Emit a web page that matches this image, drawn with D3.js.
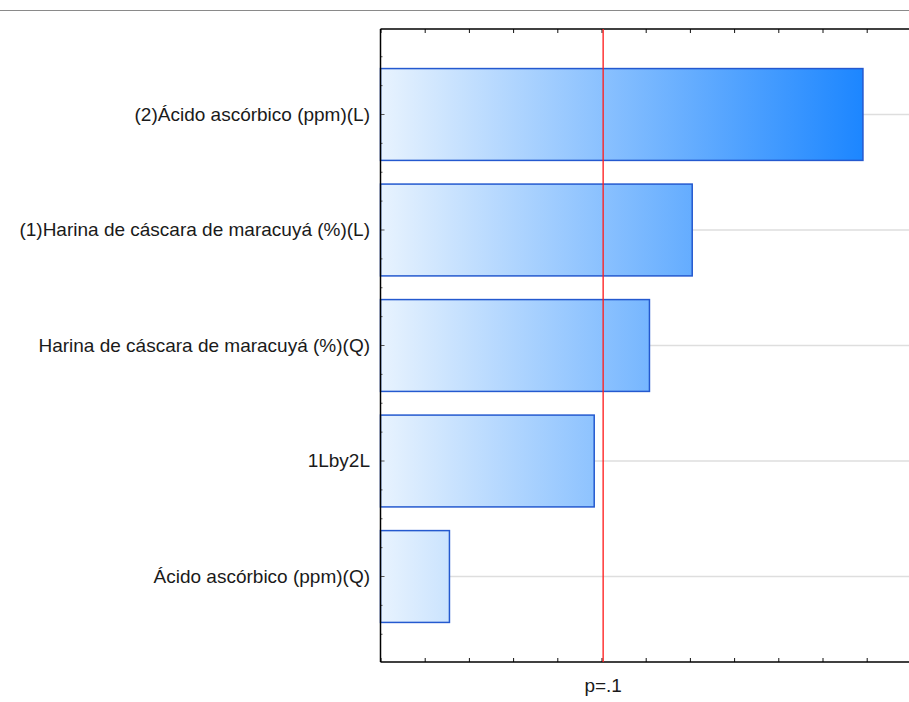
<!DOCTYPE html>
<html>
<head>
<meta charset="utf-8">
<script src="https://cdn.jsdelivr.net/npm/d3@7"></script>
<style>
	html, body { margin: 0; padding: 0; background: #fff; }
	svg { display: block; font-family: 'Liberation Sans', Arial, sans-serif; }
	.label { font-size: 19px; fill: #1a1a1a; }
</style>
</head>
<body>
<svg id="chart" width="909" height="702"></svg>
<script>
// effects, sorted as in the pareto chart
let effects = [
	'(2)Ácido ascórbico (ppm)(L)',
	'(1)Harina de cáscara de maracuyá (%)(L)',
	'Harina de cáscara de maracuyá (%)(Q)',
	'1Lby2L',
	'Ácido ascórbico (ppm)(Q)'
];
let effectValues = [4.366, 2.821, 2.434, 1.934, 0.624];
let pLabel = 'p=.1';
let pValue = 2.015;

let svg = d3.select('#chart');
let width = +svg.attr('width');
let plotLeft = 380.5, plotTop = 29, plotBottom = 662;

let x = d3.scaleLinear()
	.domain([0, 4.8])
	.range([plotLeft, plotLeft + 4.8 * 110.5]);

let y = d3.scaleBand()
	.domain(effects)
	.range([plotTop, plotBottom])
	.paddingInner(0.205)
	.paddingOuter(0.3426);

let step = y.step();

// gradient shared by all bars (same colour at same x)
let grad = svg.append('defs').append('linearGradient')
	.attr('id', 'barGrad')
	.attr('gradientUnits', 'userSpaceOnUse')
	.attr('x1', plotLeft).attr('x2', x(effectValues[0]))
	.attr('y1', 0).attr('y2', 0);
grad.append('stop').attr('offset', 0).attr('stop-color', '#e8f3fe');
grad.append('stop').attr('offset', 1).attr('stop-color', '#1c86ff');

// thin line at the very top
svg.append('line')
	.attr('x1', 0).attr('x2', width)
	.attr('y1', 10.5).attr('y2', 10.5)
	.attr('stroke', '#8a8a8a');

// gridlines at the category centres
svg.append('g')
	.selectAll('line')
	.data(effects)
	.enter().append('line')
	.attr('x1', plotLeft).attr('x2', width)
	.attr('y1', d => y(d) + y.bandwidth() / 2)
	.attr('y2', d => y(d) + y.bandwidth() / 2)
	.attr('stroke', '#dedede')
	.attr('stroke-width', 1.5);

// bars
svg.append('g')
	.selectAll('rect')
	.data(effects)
	.enter().append('rect')
	.attr('x', plotLeft)
	.attr('y', d => y(d))
	.attr('width', (d, i) => x(effectValues[i]) - plotLeft)
	.attr('height', y.bandwidth())
	.attr('fill', 'url(#barGrad)')
	.attr('stroke', '#2459cf')
	.attr('stroke-width', 1.5);

// x ticks on top and bottom frame lines
let majorTicks = d3.range(0, 4.81, 0.4);
let minorTicks = d3.range(0, 4.81, 0.08);

function frameAxis(axis, ypos, dir) {
	let g = svg.append('g').attr('transform', `translate(0,${ypos})`);
	g.call(axis(x).tickValues(minorTicks).tickSize(2 * dir).tickFormat(''));
	g.call(axis(x).tickValues(majorTicks).tickSize(4 * dir).tickFormat(''));
	g.selectAll('.domain').remove();
	g.selectAll('.tick line').attr('stroke', '#111');
	g.append('line')
		.attr('x1', plotLeft).attr('x2', width)
		.attr('stroke', '#000')
		.attr('stroke-width', 1.5);
}
frameAxis(d3.axisTop, plotTop, -1);
frameAxis(d3.axisBottom, plotBottom, -1);

// left axis ticks (pointing into the plot)
let yTicks = [];
effects.forEach(d => {
	let c = y(d) + y.bandwidth() / 2;
	yTicks.push({ y: c, len: 4 });
	yTicks.push({ y: c - step / 4, len: 2 }, { y: c + step / 4, len: 2 }, { y: c - step / 2, len: 2 });
});
yTicks.push({ y: y(effects[effects.length - 1]) + y.bandwidth() / 2 + step / 2, len: 2 });

svg.append('g')
	.selectAll('line')
	.data(yTicks)
	.enter().append('line')
	.attr('x1', plotLeft).attr('x2', d => plotLeft + d.len)
	.attr('y1', d => d.y).attr('y2', d => d.y)
	.attr('stroke', '#555');

svg.append('line')
	.attr('x1', plotLeft).attr('x2', plotLeft)
	.attr('y1', plotTop).attr('y2', plotBottom)
	.attr('stroke', '#000')
	.attr('stroke-width', 1.5);

// category labels
svg.append('g')
	.selectAll('text')
	.data(effects)
	.enter().append('text')
	.attr('class', 'label')
	.attr('x', 370)
	.attr('y', d => y(d) + y.bandwidth() / 2)
	.attr('dy', '0.34em')
	.attr('text-anchor', 'end')
	.text(d => d);

// significance line
svg.append('line')
	.attr('x1', x(pValue)).attr('x2', x(pValue))
	.attr('y1', plotTop).attr('y2', plotBottom)
	.attr('stroke', '#ff1f1f')
	.attr('stroke-opacity', 0.9)
	.attr('stroke-width', 1.5);

svg.append('text')
	.attr('class', 'label')
	.attr('x', x(pValue))
	.attr('y', 686)
	.attr('dy', '0.34em')
	.attr('text-anchor', 'middle')
	.text(pLabel);
</script>
</body>
</html>
